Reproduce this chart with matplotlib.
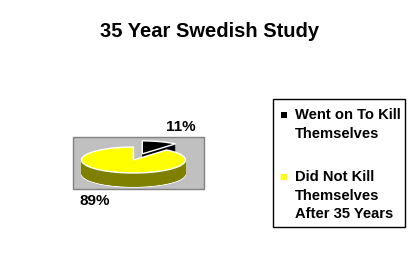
import numpy as np
import matplotlib.pyplot as plt
from matplotlib.patches import Rectangle

plt.rcParams['font.family'] = ['Liberation Sans', 'DejaVu Sans']

# chart data
title = "35 Year Swedish Study"
labels = ["Went on To Kill\nThemselves", "Did Not Kill\nThemselves\nAfter 35 Years"]
shares = [11, 89]
top_colors = ["#000000", "#ffff00"]
side_colors = ["#000000", "#808000"]
explode = [0.5, 0]

W, H = 420, 279
fig = plt.figure(figsize=(W / 100, H / 100), dpi=100)

# background layer in pixel coordinates
bg = fig.add_axes([0, 0, 1, 1])
bg.set_xlim(0, W)
bg.set_ylim(H, 0)
bg.axis('off')

bg.text(210, 36.7, title, ha='center', va='baseline', fontsize=14.5, fontweight='bold')
bg.add_patch(Rectangle((73, 137), 131, 52, facecolor='#c0c0c0', edgecolor='#808080', lw=1))

# legend box
bg.add_patch(Rectangle((273, 99), 132, 128, facecolor='white', edgecolor='black', lw=1))
first_rows = [119.3, 181.3]
pitch = 18.4
for lab, col, y0 in zip(labels, top_colors, first_rows):
    bg.add_patch(Rectangle((281, y0 - 7), 6, 6, facecolor=col, edgecolor='none'))
    for i, line in enumerate(lab.split('\n')):
        bg.text(295, y0 + i * pitch, line, ha='left', va='baseline',
                fontsize=10.6, fontweight='bold')

# pie: unit radius maps to 52 px across, 13 px high
cx, cy, rx, ry = 133.5, 160, 52, 13
depth = 14 / ry
ax = fig.add_axes([0, 0, 1, 1])
ax.patch.set_alpha(0)

layers = np.linspace(depth, 0, 60)[:-1]
for k, d in enumerate(layers):
    ax.pie(shares, colors=side_colors, startangle=90, counterclock=False,
           explode=explode, center=(0, -d),
           wedgeprops=dict(edgecolor='white' if k == 0 else 'none', linewidth=1))

wedges, texts, autotexts = ax.pie(
    shares, colors=top_colors, startangle=90, counterclock=False,
    explode=explode, autopct=lambda p: f"{p:.0f}%", pctdistance=2.2,
    wedgeprops=dict(edgecolor='white', linewidth=1),
    textprops=dict(fontsize=11, fontweight='bold', color='black'))
for t in autotexts:
    x, y = t.get_position()
    if y < 0:
        t.set_position((x, y - depth))

ax.set_xlim(-cx / rx, (W - cx) / rx)
ax.set_ylim((cy - H) / ry, cy / ry)
ax.set_aspect('auto')
ax.axis('off')

fig.savefig('out.png', dpi=100)
